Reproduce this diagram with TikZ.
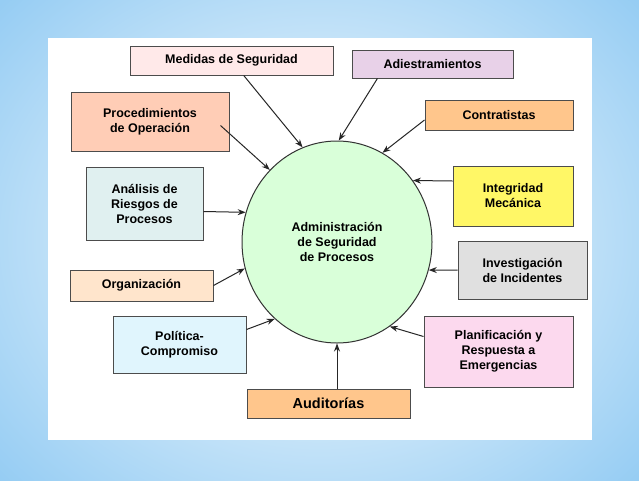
\documentclass[tikz,border=0pt]{standalone}
\usepackage{fontspec}
\setmainfont{Liberation Sans}
\usetikzlibrary{shapes.geometric,calc,arrows.meta}
\definecolor{bgb}{HTML}{8CC8F2}
\tikzset{
  bx/.style={draw=black!70, line width=1pt, align=center, font=\bfseries\fontsize{12.5}{15}\selectfont, inner sep=0pt},
  ar/.style={-{Stealth[length=8pt,width=6pt]}, line width=1pt, black!85},
}
\begin{document}
\begin{tikzpicture}[x=1pt,y=-1pt]
\useasboundingbox (0,0) rectangle (639,480);
\shade[inner color=white, outer color=bgb] (-150,-150) rectangle (789,630);
\fill[white] (48,38) rectangle (592,440);
\node[ellipse, draw=black!80, line width=1pt, fill=green!15!white, minimum width=190, minimum height=202, align=center, font=\bfseries\fontsize{12.5}{15}\selectfont] (c) at (337,242) {Administración\\de Seguridad\\de Procesos};
\newcommand\bxat[5]{\node[bx, fill=#5, minimum width={#3-#1}, minimum height={#4-#2}] at ({(#1+#3)/2},{(#2+#4)/2})}
\bxat{130}{46}{333}{75}{pink!35} (m) {Medidas de Seguridad};
\bxat{352}{50}{513}{78}{violet!18} (a) {Adiestramientos};
\bxat{71}{92}{229}{151}{orange!30!pink!60} (p) {Procedimientos\\de Operación};
\bxat{425}{100}{573}{130}{orange!45} (k) {Contratistas};
\bxat{86}{167}{203}{240}{teal!12} (r) {Análisis de\\Riesgos de\\Procesos};
\bxat{453}{166}{573}{226}{yellow!60} (i) {Integridad\\Mecánica};
\bxat{70}{270}{213}{301}{orange!20} (o) {Organización};
\bxat{458}{241}{587}{299}{black!12} (v) {Investigación\\de Incidentes};
\bxat{113}{316}{246}{373}{cyan!12} (q) {Política-\\Compromiso};
\bxat{424}{316}{573}{387}{magenta!15} (e) {Planificación y\\Respuesta a\\Emergencias};
\node[bx, fill=orange!45, minimum width=163, minimum height=29, font=\bfseries\fontsize{14.5}{16}\selectfont] (u) at (328.5,403.5) {Auditorías};
\draw[ar] ($(m.south west)!0.56!(m.south east)$) -- (c.110);
\draw[ar] ($(a.south west)!0.16!(a.south east)$) -- (c.89);
\draw[ar] ($(k.west)+(0,5)$) -- (c.63);
\draw[ar] ($(p.south east)+(-9,-26)$) -- (c.133);
\draw[ar] ($(r.east)+(0,8)$) -- (c.162);
\draw[ar] ($(i.west)+(0,-15)$) -- (c.39);
\draw[ar] (o.east) -- (c.196);
\draw[ar] (v.west) -- (c.343);
\draw[ar] ($(q.north east)+(0,14)$) -- (c.231);
\draw[ar] ($(e.west)+(0,-15)$) -- (c.302);
\draw[ar] ($(u.north)+(8.5,0)$) -- (c.270);
\end{tikzpicture}
\end{document}
